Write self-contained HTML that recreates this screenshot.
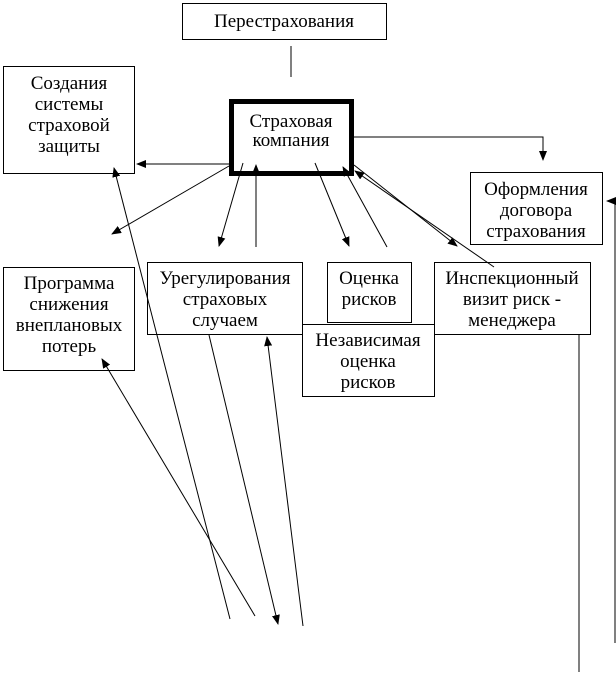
<!DOCTYPE html>
<html><head><meta charset="utf-8"><style>
html,body{margin:0;padding:0;background:#fff;}
svg{display:block;}
text{font-family:"Liberation Serif","Noto Serif CJK SC",serif;font-size:19px;fill:#000;text-anchor:middle;}
</style></head><body>
<svg width="616" height="673" viewBox="0 0 616 673">
<defs><marker id="a" markerWidth="10" markerHeight="8" refX="9" refY="4" orient="auto" markerUnits="userSpaceOnUse"><path d="M0,0 L10,4 L0,8 z" fill="#000"/></marker></defs>
<g fill="#fff" stroke="#000" stroke-width="1">
<rect x="182.5" y="3.5" width="204" height="36"/>
<rect x="3.5" y="66.5" width="131" height="107"/>
<rect x="470.5" y="172.5" width="132" height="72"/>
<rect x="3.5" y="267.5" width="131" height="103"/>
<rect x="147.5" y="262.5" width="155" height="72"/>
<rect x="327.5" y="262.5" width="84" height="60"/>
<rect x="434.5" y="262.5" width="156" height="72"/>
<rect x="302.5" y="324.5" width="132" height="72"/>
</g>
<rect x="231.5" y="101.5" width="120" height="72" fill="#fff" stroke="#000" stroke-width="5"/>
<g stroke="#000" stroke-width="1" fill="none">
<line x1="291" y1="46" x2="291" y2="77"/>
<line x1="229" y1="164" x2="137" y2="164" marker-end="url(#a)"/>
<polyline points="354,137 543,137 543,160" marker-end="url(#a)"/>
<line x1="229" y1="166" x2="112" y2="234" marker-end="url(#a)"/>
<line x1="243" y1="163" x2="219" y2="246" marker-end="url(#a)"/>
<line x1="256" y1="247" x2="256" y2="165" marker-end="url(#a)"/>
<line x1="315" y1="163" x2="349" y2="246" marker-end="url(#a)"/>
<line x1="387" y1="247" x2="343" y2="167" marker-end="url(#a)"/>
<line x1="354" y1="165" x2="457" y2="246" marker-end="url(#a)"/>
<line x1="494" y1="267" x2="355" y2="171" marker-end="url(#a)"/>
<polyline points="615,643 615,201 607,201" marker-end="url(#a)"/>
<line x1="579" y1="334" x2="579" y2="672"/>
<line x1="230" y1="619" x2="114" y2="168" marker-end="url(#a)"/>
<line x1="255" y1="616" x2="102" y2="359" marker-end="url(#a)"/>
<line x1="209" y1="335" x2="278" y2="624" marker-end="url(#a)"/>
<line x1="303" y1="626" x2="267" y2="337" marker-end="url(#a)"/>
</g>
<text x="284" y="27">Перестрахования</text>
<text x="69" y="89">Создания</text>
<text x="69" y="110">системы</text>
<text x="69" y="131">страховой</text>
<text x="69" y="152">защиты</text>
<text x="291" y="127">Страховая</text>
<text x="291" y="146">компания</text>
<text x="536" y="195">Оформления</text>
<text x="536" y="216">договора</text>
<text x="536" y="237">страхования</text>
<text x="69" y="289">Программа</text>
<text x="69" y="310">снижения</text>
<text x="69" y="331">внеплановых</text>
<text x="69" y="352">потерь</text>
<text x="225" y="284">Урегулирования</text>
<text x="225" y="305">страховых</text>
<text x="225" y="326">случаем</text>
<text x="369" y="284">Оценка</text>
<text x="369" y="305">рисков</text>
<text x="512" y="284">Инспекционный</text>
<text x="512" y="305">визит риск -</text>
<text x="512" y="326">менеджера</text>
<text x="368" y="346">Независимая</text>
<text x="368" y="367">оценка</text>
<text x="368" y="388">рисков</text>
</svg>
</body></html>
